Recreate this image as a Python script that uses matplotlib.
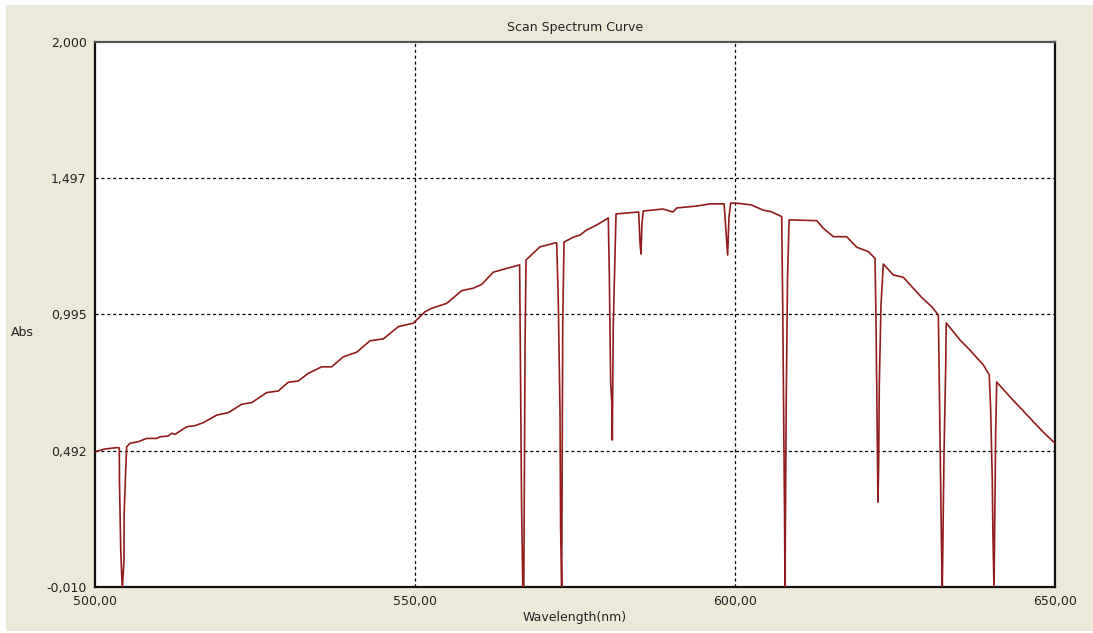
import matplotlib
matplotlib.use("Agg")
import matplotlib.pyplot as plt
from matplotlib.patches import Rectangle

wavelength = [
    500.0, 501.56, 503.39, 503.8, 503.82, 504.02, 504.27, 504.53, 504.55, 504.80, 504.95,
    505.47, 506.77, 508.08, 509.64, 510.16, 511.45, 511.98, 512.5, 514.33, 515.63,
    516.92, 519.02, 520.83, 522.92, 524.48, 526.83, 528.64, 530.20, 531.77, 533.33,
    535.42, 536.98, 538.80, 540.89, 542.97, 545.05, 547.39, 549.73, 551.56, 552.61,
    554.95, 557.30, 559.11, 560.42, 562.23, 564.33, 566.35,
    566.45, 566.65, 566.85, 567.0, 567.2, 567.35,
    569.5, 571.9, 572.14,
    572.38, 572.66, 572.75, 572.92, 573.08, 573.28,
    574.74, 575.78, 576.83, 578.39, 580.2,
    580.36, 580.57, 580.75, 580.83, 580.97, 581.25, 581.41,
    584.95, 585.16, 585.31, 585.47, 585.67,
    585.78, 588.75, 590.3, 590.9, 594.0, 596.1, 598.3,
    598.70, 598.85, 599.06, 599.33,
    600.47, 602.55, 604.38, 605.67, 607.30,
    607.46, 607.71, 607.75, 607.81, 608.0, 608.2, 608.45,
    612.77, 613.80, 615.36, 617.45, 619.02, 620.83, 621.88,
    622.03, 622.23, 622.34, 622.45, 622.55, 622.81, 623.17,
    624.73, 626.30, 627.86, 629.17, 630.73, 631.77,
    631.92, 632.19, 632.25, 632.39, 632.66, 632.92, 633.0,
    635.16, 636.7, 638.8, 639.73,
    639.95, 640.2, 640.3, 640.47, 640.73, 640.89,
    642.97, 646.1, 648.13, 650.0,
]
absorbance = [
    0.489, 0.499, 0.504, 0.503, 0.385, 0.126, -0.02, 0.090, 0.256, 0.421, 0.507,
    0.520, 0.526, 0.538, 0.538, 0.544, 0.547, 0.557, 0.553, 0.581, 0.585,
    0.596, 0.624, 0.633, 0.664, 0.670, 0.707, 0.713, 0.745, 0.750, 0.778,
    0.802, 0.802, 0.839, 0.856, 0.898, 0.905, 0.950, 0.963, 1.005, 1.018,
    1.036, 1.083, 1.092, 1.106, 1.151, 1.165, 1.178,
    0.890, 0.300, -0.02, -0.02, 0.894, 1.196,
    1.244, 1.259, 1.259,
    1.056, 0.632, 0.211, -0.02, 0.949, 1.262,
    1.280, 1.288, 1.307, 1.325, 1.351,
    1.148, 0.742, 0.672, 0.532, 0.945, 1.222, 1.366,
    1.373, 1.259, 1.218, 1.332, 1.377,
    1.377, 1.384, 1.373, 1.388, 1.395, 1.403, 1.403,
    1.262, 1.214, 1.355, 1.406,
    1.405, 1.399, 1.380, 1.374, 1.356,
    1.019, 0.340, 0.230, -0.02, 0.661, 1.122, 1.344,
    1.341, 1.313, 1.282, 1.282, 1.243, 1.227, 1.202,
    0.975, 0.532, 0.303, 0.451, 0.742, 1.030, 1.181,
    1.141, 1.132, 1.092, 1.058, 1.024, 0.993,
    0.746, 0.244, 0.163, -0.02, 0.484, 0.801, 0.964,
    0.901, 0.864, 0.809, 0.772,
    0.643, 0.385, 0.189, -0.02, 0.558, 0.746,
    0.691, 0.613, 0.562, 0.520,
]

y_ticks = [-0.010, 0.492, 0.995, 1.497, 2.000]
y_tick_labels = ["-0,010", "0,492", "0,995", "1,497", "2,000"]
x_ticks = [500, 550, 600, 650]
x_tick_labels = ["500,00", "550,00", "600,00", "650,00"]

W, H = 1093, 633
fig = plt.figure(figsize=(W / 100, H / 100), dpi=100, facecolor="white")
fig.patches.append(Rectangle((6 / W, 2 / H), 1 - 6 / W, 1 - 7 / H,
                             transform=fig.transFigure, facecolor="#ECE9D8",
                             edgecolor="none", zorder=-10))

left, right, top, bottom = 95, 1055, 42, 587
ax = fig.add_axes([left / W, 1 - bottom / H, (right - left) / W, (bottom - top) / H])
ax.set_facecolor("white")

ax.plot(wavelength, absorbance, color="#921c1c", lw=1.2, clip_on=True, zorder=3)

ax.set_xlim(500, 650)
ax.set_ylim(-0.010, 2.000)
ax.set_xticks(x_ticks)
ax.set_xticklabels(x_tick_labels)
ax.set_yticks(y_ticks)
ax.set_yticklabels(y_tick_labels)
ax.tick_params(length=0, labelsize=9, colors="#222222", pad=6)

for xv in [550, 600]:
    ax.axvline(xv, color="black", lw=0.9, dashes=(2.5, 2.2), zorder=2)
for yv in [0.492, 0.995, 1.497]:
    ax.axhline(yv, color="black", lw=0.9, dashes=(2.5, 2.2), zorder=2)

for side in ["left", "bottom", "right"]:
    ax.spines[side].set_color("#111111")
    ax.spines[side].set_linewidth(1.6)
ax.spines["top"].set_color("#555555")
ax.spines["top"].set_linewidth(1.6)

fig.text(575 / W, 1 - 27 / H, "Scan Spectrum Curve", ha="center", va="center",
         fontsize=9, color="#222222")
fig.text(575 / W, 1 - 617 / H, "Wavelength(nm)", ha="center", va="center",
         fontsize=9, color="#222222")
fig.text(22 / W, 1 - 333 / H, "Abs", ha="center", va="center",
         fontsize=9, color="#222222")

fig.savefig("out.png", dpi=100, facecolor="white")
